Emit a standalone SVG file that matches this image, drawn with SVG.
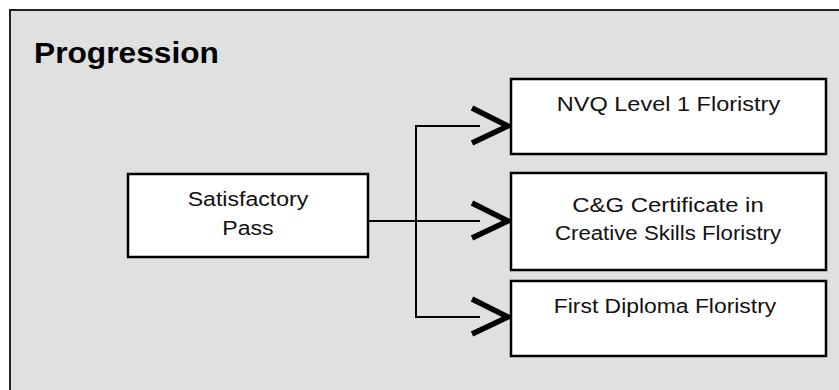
<svg xmlns="http://www.w3.org/2000/svg" width="839" height="390" viewBox="0 0 839 390">
<defs>
<style>
.frame{fill:#e0e0e0;stroke:#222;stroke-width:2}
.box{fill:#fff;stroke:#000;stroke-width:2.5}
.t{font-family:"Liberation Sans",Arial,sans-serif;font-size:21px;fill:#111;text-anchor:middle}
.title{font-family:"Liberation Sans",Arial,sans-serif;font-size:30px;font-weight:bold;fill:#000}
.line{fill:none;stroke:#000;stroke-width:2}
.chev{fill:none;stroke:#000;stroke-width:5.5;stroke-linejoin:miter}
</style>
</defs>
<rect width="839" height="390" fill="#fff"/>
<rect class="frame" x="10" y="10" width="840" height="400"/>
<text class="title" transform="translate(34,63) scale(1.057,1)">Progression</text>
<g id="connectors">
<polyline class="line" points="368,221 480,221"/>
<polyline class="line" points="480,126 416,126 416,317 480,317"/>
<polyline class="chev" points="472,108 508,126 472,143"/>
<polyline class="chev" points="472,203 508,221 472,238"/>
<polyline class="chev" points="472,299 508,317 472,334"/>
</g>
<g id="satisfactory">
<rect class="box" x="128" y="174" width="240" height="83"/>
<text class="t" transform="translate(248,206) scale(1.1,1)">Satisfactory</text>
<text class="t" transform="translate(248,235) scale(1.1,1)">Pass</text>
</g>
<g id="nvq">
<rect class="box" x="511" y="79" width="315" height="75"/>
<text class="t" transform="translate(668.5,111) scale(1.12,1)">NVQ Level 1 Floristry</text>
</g>
<g id="cg">
<rect class="box" x="511" y="173" width="315" height="97"/>
<text class="t" transform="translate(668,212) scale(1.14,1)">C&amp;G Certificate in</text>
<text class="t" transform="translate(668,240) scale(1.06,1)">Creative Skills Floristry</text>
</g>
<g id="firstdiploma">
<rect class="box" x="511" y="281" width="315" height="75"/>
<text class="t" transform="translate(665,313) scale(1.09,1)">First Diploma Floristry</text>
</g>
</svg>
